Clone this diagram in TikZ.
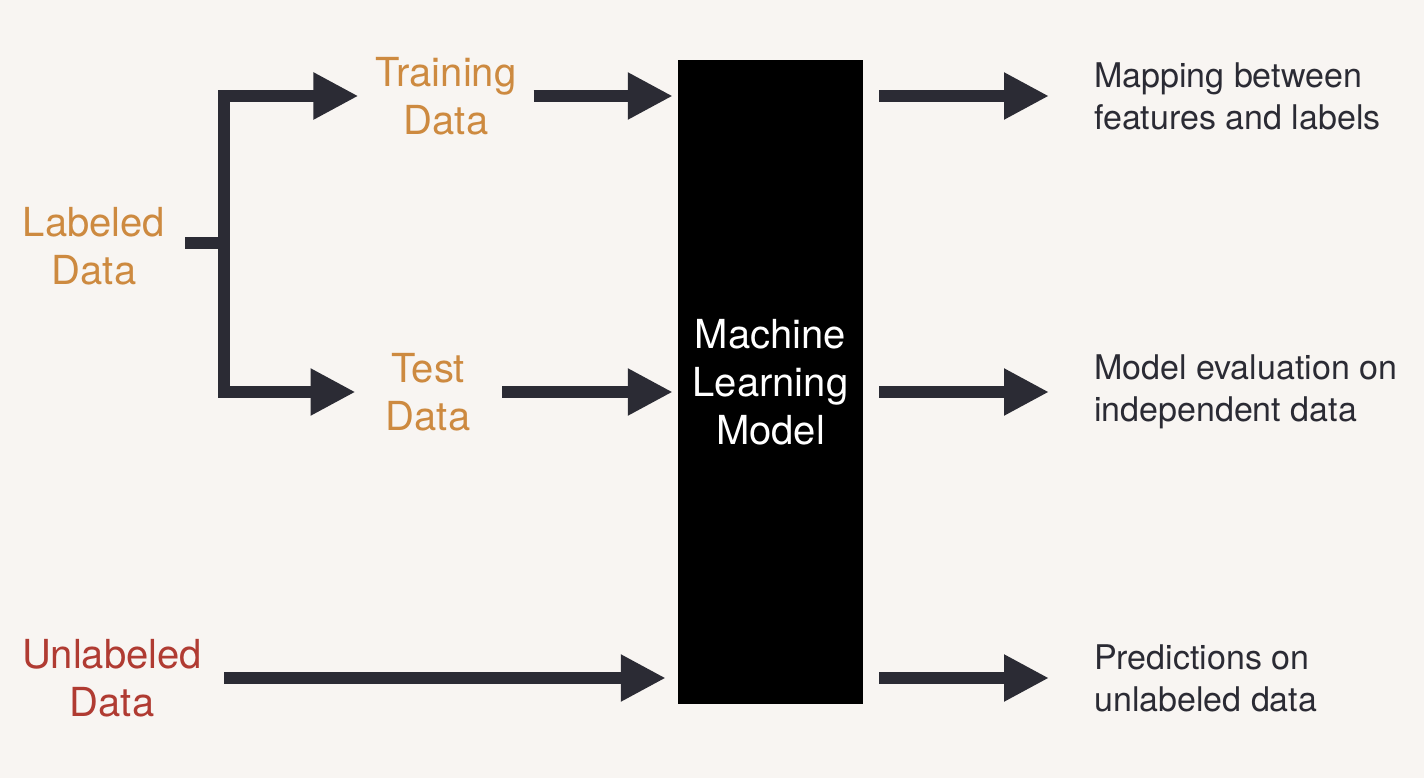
\documentclass[tikz,border=0pt]{standalone}
\usepackage{fontspec}
\setmainfont{TeX Gyre Heros}
\usetikzlibrary{arrows.meta}
\definecolor{bgcol}{HTML}{F8F5F2}
\definecolor{datacol}{HTML}{CD8A40}
\definecolor{newcol}{HTML}{B03B32}
\definecolor{arrcol}{HTML}{2B2B34}
\begin{document}
\begin{tikzpicture}[x=1pt,y=-1pt,
    arr/.style={draw=arrcol, line width=12pt, -{Triangle[length=45pt,width=44pt]}},
    stub/.style={draw=arrcol, line width=12pt},
    data/.style={text=datacol, align=center, inner sep=0pt, font=\fontsize{40}{48}\selectfont},
    result/.style={text=arrcol, align=left, anchor=west, inner sep=0pt, font=\fontsize{34}{42}\selectfont}]
        \fill[bgcol] (0,0) rectangle (1424,778);

        \node[data] (lab) at (94,246) {Labeled\\Data};
        \node[data] (train) at (446,96) {Training\\Data};
        \node[data] (test) at (428,392) {Test\\Data};
        \node[data, text=newcol] (unlab) at (112,678) {Unlabeled\\Data};
        \node[fill=black, text=white, align=center, inner sep=0pt,
              minimum width=185pt, minimum height=644pt,
              font=\fontsize{40}{48}\selectfont] (model) at (770.5,382) {Machine\\Learning\\Model};
        \node[result] (map) at (1094,96) {Mapping between\\features and labels};
        \node[result] (eval) at (1094,392) {Model evaluation on\\independent data};
        \node[result] (pred) at (1094,678) {Predictions on\\unlabeled data};

        \coordinate (split) at (224,243);
        \draw[stub, shorten <=20pt] (lab.east |- split) -- (split);
        \draw[arr, shorten >=17pt] (split) |- (train);
        \draw[arr, shorten >=30pt] (split) |- (test);
        \draw[arr, shorten <=17pt, shorten >=5pt] (train) -- (model.west |- train);
        \draw[arr, shorten <=32pt, shorten >=5pt] (test) -- (model.west |- test);
        \draw[arr, shorten <=22pt, shorten >=12pt] (unlab) -- (model.west |- unlab);
        \draw[arr, shorten <=16pt, shorten >=45pt] (model.east |- train) -- (map);
        \draw[arr, shorten <=16pt, shorten >=45pt] (model.east |- test) -- (eval);
        \draw[arr, shorten <=16pt, shorten >=45pt] (model.east |- unlab) -- (pred);
\end{tikzpicture}
\end{document}
